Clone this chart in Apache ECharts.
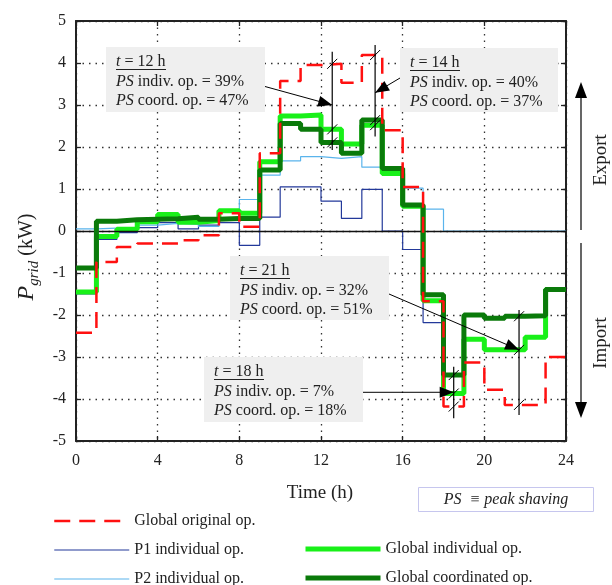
<!DOCTYPE html>
<html>
<head>
<meta charset="utf-8">
<script src="https://cdn.jsdelivr.net/npm/echarts@6/dist/echarts.min.js"></script>
<style>
  html, body { margin: 0; padding: 0; background: #fff; }
  #chart { width: 612px; height: 585px; }
</style>
</head>
<body>
<div id="chart"></div>
<script>
// Hourly grid power (kW), one value per hour 0..23
const hours = Array.from({ length: 24 }, (_, i) => i);
const globalOriginal = [-2.42, -0.74, -0.38, -0.30, -0.30, -0.22, -0.10, 0.42, 0.10, 1.85, 3.57, 3.95,
                        3.98, 3.53, 4.19, 2.40, 1.05, -1.67, -4.18, -3.13, -3.78, -4.14, -4.14, -3.00];
const p1Individual   = [-1.50, -0.20, -0.04, 0.08, 0.20, 0.05, 0.14, 0.20, -0.34, 0.33, 1.05, 1.05,
                        0.71, 0.30, 0.99, 0.00, -0.44, -2.18, -3.87, -2.58, -2.83, -2.83, -2.53, -1.39];
const p2Individual   = [0.05, 0.07, 0.08, 0.14, 0.18, 0.16, 0.11, 0.28, 0.75, 1.33, 1.67, 1.77,
                        1.73, 1.77, 1.52, 1.37, 1.02, 0.52, 0, 0, 0, 0, 0, 0];
const globalIndiv    = [-1.45, -0.13, 0.04, 0.22, 0.39, 0.21, 0.25, 0.48, 0.42, 1.65, 2.74, 2.76,
                        2.42, 2.07, 2.52, 1.37, 0.59, -1.66, -3.87, -2.58, -2.83, -2.83, -2.53, -1.39];
const globalCoord    = [-0.88, 0.23, 0.27, 0.28, 0.29, 0.33, 0.28, 0.30, 0.30, 1.45, 2.56, 2.42,
                        2.11, 1.85, 2.64, 1.49, 0.62, -1.52, -3.43, -2.00, -2.08, -2.03, -2.02, -1.39];

const xTicks = [0, 4, 8, 12, 16, 20, 24];
const yTicks = [-5, -4, -3, -2, -1, 0, 1, 2, 3, 4, 5];

const seriesNames = ['Global original op.', 'P1 individual op.', 'P2 individual op.',
                     'Global individual op.', 'Global coordinated op.'];

// Peak-shaving callouts: hour index and the percentages shown
const calloutHours = [12, 14, 21, 18];
const psIndiv = ['39%', '40%', '32%', '7%'];
const psCoord = ['47%', '37%', '51%', '18%'];

const SERIF = '"Liberation Serif", "DejaVu Serif", serif';
const INK = '#222';

// step data: each hour value held until the next hour
function steps(vals) {
  const d = hours.map((h, i) => [h, vals[i]]);
  d.push([24, vals[vals.length - 1]]);
  return d;
}

const chart = echarts.init(document.getElementById('chart'));

const axisLine = { show: true, onZero: false, lineStyle: { color: INK, width: 2 } };
const tick = { show: true, inside: true, length: 5, lineStyle: { color: INK, width: 1.3 } };
const dotted = { show: true, lineStyle: { color: '#333', type: [1.5, 5], width: 1.3 } };

const legendBase = {
  orient: 'vertical', itemWidth: 75, itemHeight: 14, itemGap: 13, height: 120, padding: 0,
  itemStyle: { opacity: 0 },
  lineStyle: { width: 'inherit' },
  textStyle: { fontFamily: SERIF, fontSize: 16, color: INK, lineHeight: 14 }
};

const option = {
  backgroundColor: '#fff',
  animation: false,
  grid: { left: 76, right: 46, top: 21, bottom: 144 },
  xAxis: [
    {
      type: 'value', min: 0, max: 24, interval: 4, position: 'bottom',
      axisLine, axisTick: tick, splitLine: dotted,
      axisLabel: { color: INK, fontFamily: SERIF, fontSize: 16, margin: 12,
        formatter: v => (xTicks.indexOf(v) >= 0 ? String(v) : '') }
    },
    {
      type: 'value', min: 0, max: 24, interval: 4, position: 'top',
      axisLine, axisTick: tick, splitLine: { show: false }, axisLabel: { show: false }
    }
  ],
  yAxis: [
    {
      type: 'value', min: -5, max: 5, interval: 1, position: 'left',
      axisLine, axisTick: tick, splitLine: dotted,
      axisLabel: { color: INK, fontFamily: SERIF, fontSize: 16, margin: 10,
        formatter: v => (yTicks.indexOf(v) >= 0 ? String(v) : '') }
    },
    {
      type: 'value', min: -5, max: 5, interval: 1, position: 'right',
      axisLine, axisTick: tick, splitLine: { show: false }, axisLabel: { show: false }
    }
  ],
  legend: [
    Object.assign({}, legendBase, { left: 53, top: 513, data: [seriesNames[0], seriesNames[1], seriesNames[2]] }),
    Object.assign({}, legendBase, { left: 303, top: 541, data: [seriesNames[3], seriesNames[4]] })
  ],
  series: [
    {
      name: seriesNames[1], type: 'line', step: 'end', symbol: 'none', data: steps(p1Individual),
      lineStyle: { color: '#23399a', width: 1.2 }, itemStyle: { color: '#23399a' }, z: 2,
      markLine: {
        silent: true, symbol: 'none', label: { show: false },
        lineStyle: { color: '#111', type: 'solid', width: 1.3 },
        data: [{ yAxis: 0 }]
      }
    },
    {
      name: seriesNames[2], type: 'line', step: 'end', symbol: 'none', data: steps(p2Individual),
      lineStyle: { color: '#5ab4ec', width: 1.2 }, itemStyle: { color: '#5ab4ec' }, z: 3
    },
    {
      name: seriesNames[3], type: 'line', step: 'end', symbol: 'none', data: steps(globalIndiv),
      lineStyle: { color: '#19f019', width: 5 }, itemStyle: { color: '#19f019' }, z: 4
    },
    {
      name: seriesNames[4], type: 'line', step: 'end', symbol: 'none', data: steps(globalCoord),
      lineStyle: { color: '#0a7a0a', width: 5 }, itemStyle: { color: '#0a7a0a' }, z: 5
    },
    {
      name: seriesNames[0], type: 'line', step: 'end', symbol: 'none', data: steps(globalOriginal),
      lineStyle: { color: '#ff1010', width: 2.5, type: [16, 9] }, itemStyle: { color: '#ff1010' }, z: 6
    }
  ]
};

chart.setOption(option);

// ---- overlay graphics: callouts, axis titles, export/import arrows ----
function px(x, y) { return chart.convertToPixel({ xAxisIndex: 0, yAxisIndex: 0 }, [x, y]); }

function arrowHead(tip, from, len, half) {
  const dx = tip[0] - from[0], dy = tip[1] - from[1];
  const L = Math.hypot(dx, dy) || 1;
  const ux = dx / L, uy = dy / L;
  const bx = tip[0] - ux * len, by = tip[1] - uy * len;
  return {
    type: 'polygon', silent: true, z: 30,
    shape: { points: [tip, [bx - uy * half, by + ux * half], [bx + uy * half, by - ux * half]] },
    style: { fill: '#000' }
  };
}
function seg(a, b, w, color) {
  return { type: 'line', silent: true, z: 30, shape: { x1: a[0], y1: a[1], x2: b[0], y2: b[1] },
    style: { stroke: color || '#000', lineWidth: w || 1 } };
}

// callout boxes (pixel layout) and their targets (data space)
const callouts = [
  { box: [106, 47, 159, 65], arrowFrom: [265, 86.5], xAt: 12.55, tipY: 3.0, top: 4.27, bottom: 1.93 },
  { box: [400, 48, 158, 64], arrowFrom: [400, 78], xAt: 14.65, tipY: 3.29, top: 4.43, bottom: 2.25 },
  { box: [230, 256, 159, 64], arrowFrom: [389, 294], xAt: 21.7, tipY: -2.83, top: -1.88, bottom: -4.38 },
  { box: [204, 357, 159, 65], arrowFrom: [363, 392.3], xAt: 18.5, tipY: -3.84, top: -3.23, bottom: -4.46 }
];

const italic = { i: { fontStyle: 'italic', fontFamily: SERIF, fontSize: 16, fill: INK } };
const g = [];
callouts.forEach((c, k) => {
  const h = calloutHours[k];
  const [bx, by, bw, bh] = c.box;
  g.push({ type: 'rect', silent: true, z: 20, shape: { x: bx, y: by, width: bw, height: bh },
    style: { fill: '#efefef' } });
  const tx = bx + 10;
  const l1 = by + 14.5, l2 = by + 34.5, l3 = by + 53.5;
  const lines = ['{i|t} = ' + h + ' h', '{i|PS} indiv. op. = ' + psIndiv[k], '{i|PS} coord. op. = ' + psCoord[k]];
  [l1, l2, l3].forEach((ly, j) => {
    g.push({ type: 'text', silent: true, z: 21, x: tx, y: ly,
      style: { text: lines[j], rich: italic, fontFamily: SERIF, fontSize: 16, fill: INK,
        verticalAlign: 'middle', align: 'left' } });
  });
  g.push(seg([tx, l1 + 8], [tx + (h >= 10 ? 50 : 42), l1 + 8], 1, INK));

  // measuring line with slash marks at original / individual / coordinated levels
  const pTop = px(c.xAt, c.top), pBot = px(c.xAt, c.bottom);
  g.push(seg(pTop, pBot, 1.2, '#000'));
  [globalOriginal[h], globalIndiv[h], globalCoord[h]].forEach(v => {
    const p = px(c.xAt, v);
    g.push(seg([p[0] - 5, p[1] + 5], [p[0] + 5, p[1] - 5], 1, '#000'));
  });

  // pointer arrow
  const tip = px(c.xAt, c.tipY);
  g.push(seg(c.arrowFrom, tip, 1, '#000'));
  g.push(arrowHead(tip, c.arrowFrom, 14, 5.5));
});

// axis titles
g.push({ type: 'text', silent: true, z: 10, x: 320, y: 493,
  style: { text: 'Time (h)', fontFamily: SERIF, fontSize: 19, fill: INK, align: 'center', verticalAlign: 'middle' } });
g.push({ type: 'text', silent: true, z: 10, x: 27, y: 257, rotation: Math.PI / 2,
  style: {
    text: '{p|P}{s|grid}{n| (kW)}',
    align: 'center', verticalAlign: 'middle',
    rich: {
      p: { fontFamily: SERIF, fontStyle: 'italic', fontSize: 24, lineHeight: 30, fill: INK, verticalAlign: 'middle' },
      s: { fontFamily: SERIF, fontStyle: 'italic', fontSize: 15, lineHeight: 15, fill: INK, verticalAlign: 'bottom' },
      n: { fontFamily: SERIF, fontSize: 20, lineHeight: 30, fill: INK, verticalAlign: 'middle' }
    }
  } });

// export / import arrows on the right
g.push(seg([581, 230], [581, 92], 1.2, '#000'));
g.push(arrowHead([581, 82], [581, 230], 16, 6));
g.push(seg([581, 243], [581, 408], 1.2, '#000'));
g.push(arrowHead([581, 418], [581, 243], 16, 6));
g.push({ type: 'text', silent: true, x: 601, y: 160, rotation: Math.PI / 2,
  style: { text: 'Export', fontFamily: SERIF, fontSize: 19, fill: INK, align: 'center', verticalAlign: 'middle' } });
g.push({ type: 'text', silent: true, x: 601, y: 343, rotation: Math.PI / 2,
  style: { text: 'Import', fontFamily: SERIF, fontSize: 19, fill: INK, align: 'center', verticalAlign: 'middle' } });

// peak-shaving note
g.push({ type: 'rect', silent: true, shape: { x: 418.5, y: 487.5, width: 175, height: 24 },
  style: { fill: '#fff', stroke: '#c6c6ee', lineWidth: 1 } });
g.push({ type: 'text', silent: true, x: 506, y: 499.5,
  style: { text: 'PS  \u2261 peak shaving', fontFamily: SERIF, fontStyle: 'italic', fontSize: 16, fill: INK,
    align: 'center', verticalAlign: 'middle' } });

chart.setOption({ graphic: g });
</script>
</body>
</html>
